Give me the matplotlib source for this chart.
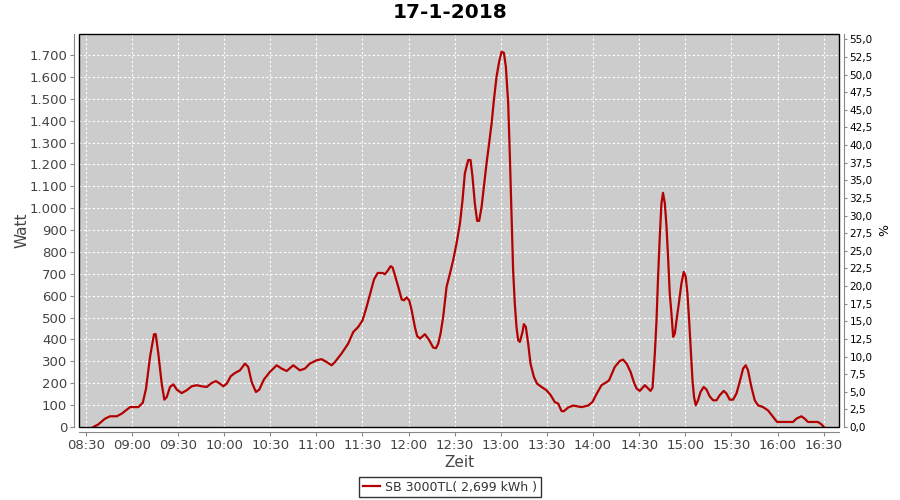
import matplotlib
matplotlib.use('Agg')
import matplotlib.pyplot as plt
from matplotlib.patches import Rectangle
from matplotlib.ticker import FuncFormatter, MultipleLocator

# Minuten nach 08:30 und Leistung in Watt
minuten = [4.9, 8.2, 12.5, 15.8, 20.2, 23.4, 28.8, 34.2, 37.1, 39.2,
           41.8, 44.4, 45.5, 47.2, 49.4, 51.1, 52.7, 54.8, 57.0, 59.2,
           62.4, 65.7, 68.9, 72.2, 75.4, 78.7, 81.9, 84.7, 87.3, 89.5,
           91.7, 94.3, 97.1, 100.3, 103.6, 105.7, 107.9, 110.7, 112.9, 115.9,
           119.8, 124.2, 127.4, 130.7, 135.0, 139.3, 142.6, 145.8, 150.2, 153.4,
           156.7, 159.9, 162.1, 166.4, 170.7, 174.0, 177.2, 180.1, 182.7, 185.3,
           187.5, 189.9, 193.1, 194.6, 196.7, 198.3, 199.6, 201.1, 203.3, 205.5,
           207.0, 208.7, 210.4, 212.0, 214.1, 215.6, 217.4, 220.6, 223.4, 226.0,
           227.8, 229.3, 230.8, 232.5, 234.7, 236.9, 239.0, 241.2, 243.4, 245.1,
           246.6, 248.8, 250.3, 251.6, 253.1, 254.6, 255.9, 257.5, 259.0, 260.7,
           262.4, 264.0, 265.5, 267.2, 268.9, 270.5, 272.0, 273.3, 274.8, 275.9,
           277.0, 278.0, 279.1, 280.2, 281.3, 282.4, 284.1, 285.0, 286.3, 287.8,
           289.3, 291.5, 293.6, 296.5, 299.7, 302.5, 305.1, 307.3, 309.5, 311.0,
           313.8, 317.0, 322.5, 326.8, 329.6, 332.2, 335.5, 338.3, 340.4, 344.1,
           347.4, 349.5, 351.8, 354.4, 356.5, 358.3, 360.4, 363.7, 365.8, 367.4,
           368.7, 370.2, 371.3, 372.3, 373.4, 374.5, 375.5, 376.7, 377.8, 378.8,
           379.9, 381.0, 382.1, 383.2, 384.3, 385.8, 387.5, 389.0, 390.3, 391.4,
           392.5, 393.6, 394.7, 395.7, 396.8, 398.3, 399.9, 402.0, 403.8, 405.9,
           408.1, 410.3, 412.4, 415.0, 416.8, 418.9, 421.1, 423.3, 425.4, 427.6,
           429.3, 430.8, 433.0, 435.2, 437.3, 440.6, 443.8, 447.1, 449.7, 453.6,
           460.1, 462.3, 465.5, 467.7, 469.8, 476.3, 478.6, 480.2]
watt = [0, 12, 38, 49, 49, 61, 91, 91, 111, 175,
        320, 424, 424, 336, 198, 125, 137, 183, 195, 171,
        155, 168, 186, 191, 186, 183, 201, 210, 198, 186,
        198, 232, 247, 259, 290, 274, 206, 160, 171, 217,
        252, 282, 267, 256, 282, 259, 267, 290, 305, 310,
        297, 282, 297, 336, 381, 434, 457, 488, 549, 617,
        674, 704, 704, 698, 717, 735, 729, 694, 640, 583,
        579, 592, 579, 534, 457, 415, 404, 424, 397, 363,
        360, 381, 427, 503, 640, 701, 762, 839, 930, 1037,
        1159, 1220, 1220, 1143, 1022, 942, 942, 1006, 1098, 1204,
        1296, 1387, 1494, 1600, 1669, 1715, 1710, 1646, 1479, 1235,
        960, 717, 564, 457, 396, 389, 434, 470, 457, 381,
        290, 229, 198, 183, 168, 145, 114, 107, 73, 72,
        89, 98, 91, 98, 114, 150, 191, 203, 213, 274,
        302, 308, 290, 252, 206, 176, 165, 191, 176, 165,
        180, 336, 488, 686, 869, 1022, 1070, 1022, 915, 777,
        610, 519, 412, 427, 488, 564, 656, 709, 686, 610,
        488, 351, 213, 137, 99, 122, 160, 183, 171, 140,
        122, 122, 145, 165, 153, 125, 125, 153, 206, 267,
        282, 259, 183, 122, 99, 91, 76, 46, 23, 23,
        23, 38, 49, 38, 23, 23, 12, 0]

zeit_ticks = list(range(0, 481, 30))
zeit_labels = ['08:30', '09:00', '09:30', '10:00', '10:30', '11:00', '11:30',
               '12:00', '12:30', '13:00', '13:30', '14:00', '14:30', '15:00',
               '15:30', '16:00', '16:30']
titel = '17-1-2018'
legende = 'SB 3000TL( 2,699 kWh )'

grau = '#444444'

fig = plt.figure(figsize=(9, 5), dpi=100)
ax = fig.add_axes([79 / 900, 1 - 427 / 500, 760 / 900, 393 / 500])
ax.set_facecolor('#cccccc')

linie, = ax.plot(minuten, watt, color='#b30000', lw=1.6, label=legende)

ax.set_xlim(-4.4, 490.0)
ax.set_ylim(0, 1796)
ax.set_xticks(zeit_ticks)
ax.set_xticklabels(zeit_labels)
ax.yaxis.set_major_locator(MultipleLocator(100))
ax.yaxis.set_major_formatter(FuncFormatter(lambda v, p: f'{int(v):,}'.replace(',', '.')))
ax.grid(True, color='white', ls=(0, (2, 2)), lw=0.8)

# Achsen leicht abgesetzt, Plotbereich mit schwarzem Rahmen
for s in ['left', 'bottom']:
    ax.spines[s].set_position(('outward', 3.5))
    ax.spines[s].set_color('#888888')
for s in ['top', 'right']:
    ax.spines[s].set_visible(False)
ax.add_patch(Rectangle((0, 0), 1, 1, transform=ax.transAxes, fill=False,
                       edgecolor='black', lw=1.0, clip_on=False, zorder=5))
ax.tick_params(axis='both', colors='#888888', length=3, width=0.8, labelsize=9.5,
               labelcolor=grau, pad=2)

ax.set_ylabel('Watt', fontsize=11, color=grau, labelpad=0)
ax.set_xlabel('Zeit', fontsize=11, color=grau, labelpad=2)

ax2 = ax.twinx()
ax2.set_ylim(0, 55.75)
ax2.yaxis.set_major_locator(MultipleLocator(2.5))
ax2.yaxis.set_major_formatter(FuncFormatter(lambda v, p: f'{v:.1f}'.replace('.', ',')))
for s in ['left', 'bottom', 'top']:
    ax2.spines[s].set_visible(False)
ax2.spines['right'].set_position(('outward', 3.5))
ax2.spines['right'].set_color('#888888')
ax2.tick_params(axis='y', colors='#888888', length=2, width=0.8, labelsize=7.5,
                labelcolor='black', pad=2)
ax2.set_ylabel('%', fontsize=9, color='black', labelpad=4)

fig.text(0.5, 1 - 13 / 500, titel, ha='center', va='center', fontsize=14.5,
         fontweight='bold')

leg = fig.legend(handles=[linie], loc='center', bbox_to_anchor=(0.5, 1 - 487 / 500),
                 fontsize=9, frameon=True, fancybox=False, handlelength=1.4,
                 borderpad=0.3, handletextpad=0.4, borderaxespad=0)
leg.get_frame().set_edgecolor('black')
leg.get_frame().set_linewidth(1.0)
for t in leg.get_texts():
    t.set_color('#333333')

fig.savefig('out.png', dpi=100)
